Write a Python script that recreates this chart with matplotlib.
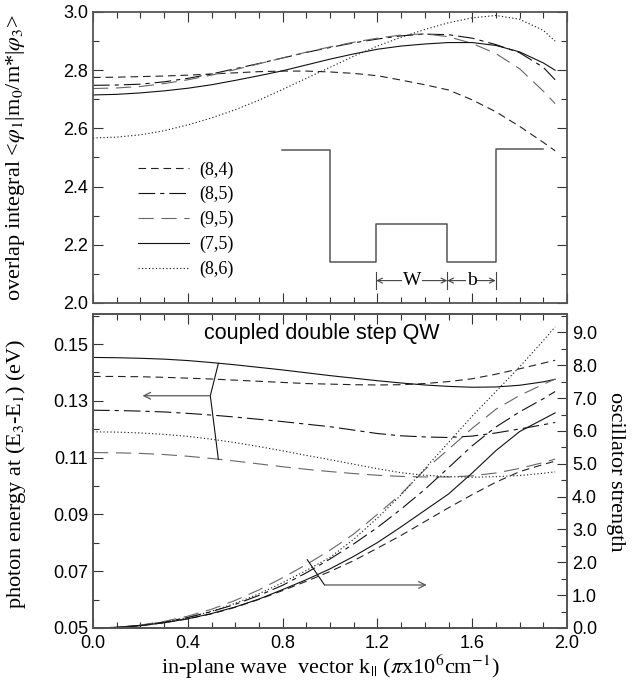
import matplotlib
matplotlib.use("Agg")
import matplotlib.pyplot as plt
from matplotlib.ticker import MultipleLocator, FixedLocator, FixedFormatter

plt.rcParams['mathtext.fontset'] = 'stix'
plt.rcParams['lines.scale_dashes'] = False

SERIF = 'Liberation Serif'
SANS = 'Liberation Sans'

# ---------------- data ----------------
k = [0.0, 0.1, 0.2, 0.3, 0.4, 0.5, 0.6, 0.7, 0.8, 0.9, 1.0,
     1.1, 1.2, 1.3, 1.4, 1.5, 1.6, 1.7, 1.8, 1.9, 1.95]

labels = ['(8,4)', '(8,5)', '(9,5)', '(7,5)', '(8,6)']

# overlap integral (top panel)
ov_84 = [2.775, 2.776, 2.778, 2.780, 2.783, 2.787, 2.791, 2.795, 2.797, 2.797, 2.794,
         2.789, 2.781, 2.766, 2.750, 2.732, 2.698, 2.657, 2.607, 2.552, 2.523]
ov_85 = [2.748, 2.749, 2.752, 2.760, 2.772, 2.787, 2.805, 2.823, 2.842, 2.861, 2.878,
         2.894, 2.907, 2.918, 2.924, 2.922, 2.910, 2.888, 2.860, 2.810, 2.767]
ov_95 = [2.737, 2.739, 2.744, 2.754, 2.767, 2.783, 2.802, 2.822, 2.842, 2.862, 2.880,
         2.896, 2.910, 2.921, 2.925, 2.915, 2.892, 2.857, 2.805, 2.728, 2.685]
ov_75 = [2.715, 2.717, 2.722, 2.729, 2.738, 2.750, 2.765, 2.781, 2.798, 2.818, 2.838,
         2.856, 2.872, 2.883, 2.890, 2.895, 2.895, 2.885, 2.863, 2.825, 2.800]
ov_86 = [2.567, 2.570, 2.578, 2.592, 2.612, 2.636, 2.664, 2.697, 2.734, 2.772, 2.810,
         2.848, 2.883, 2.913, 2.940, 2.963, 2.980, 2.988, 2.975, 2.937, 2.900]

# photon energy E3-E1 (eV), bottom panel left axis
en_84 = [.1386, .1386, .1385, .1383, .1380, .1377, .1373, .1369, .1365, .1361, .1359,
         .1357, .1356, .1357, .1361, .1368, .1378, .1394, .1413, .1433, .1443]
en_85 = [.1267, .1266, .1264, .1261, .1256, .1250, .1243, .1235, .1227, .1218, .1209,
         .1197, .1185, .1177, .1173, .1171, .1176, .1187, .1201, .1216, .1224]
en_95 = [.1118, .1117, .1115, .1111, .1105, .1097, .1088, .1078, .1068, .1059, .1051,
         .1044, .1038, .1034, .1032, .1032, .1036, .1046, .1062, .1083, .1095]
en_75 = [.1453, .1452, .1450, .1447, .1442, .1435, .1427, .1418, .1409, .1399, .1389,
         .1380, .1371, .1363, .1356, .1351, .1348, .1349, .1355, .1367, .1376]
en_86 = [.1191, .1190, .1187, .1182, .1175, .1165, .1153, .1139, .1124, .1108, .1093,
         .1077, .1061, .1047, .1038, .1033, .1031, .1033, .1037, .1045, .1050]

# oscillator strength, bottom panel right axis
os_84 = [0, .02, .07, .16, .28, .43, .63, .87, 1.14, 1.42, 1.72,
         2.05, 2.43, 2.82, 3.24, 3.66, 4.06, 4.44, 4.76, 4.98, 5.08]
os_85 = [0, .02, .08, .18, .32, .50, .72, .99, 1.30, 1.68, 2.10,
         2.56, 3.06, 3.62, 4.22, 4.88, 5.55, 6.12, 6.58, 6.98, 7.20]
os_95 = [0, .02, .09, .20, .36, .57, .84, 1.16, 1.53, 1.93, 2.37,
         2.86, 3.46, 4.08, 4.82, 5.44, 6.08, 6.66, 7.08, 7.42, 7.58]
os_75 = [0, .02, .07, .16, .28, .44, .64, .88, 1.17, 1.47, 1.80,
         2.18, 2.60, 3.08, 3.58, 4.08, 4.72, 5.40, 5.98, 6.36, 6.55]
os_86 = [0, .02, .08, .18, .32, .51, .75, 1.04, 1.38, 1.75, 2.15,
         2.70, 3.35, 4.05, 4.85, 5.65, 6.45, 7.20, 7.95, 8.75, 9.17]

xticks = [0.0, 0.4, 0.8, 1.2, 1.6, 2.0]
xticklabels = ['0.0', '0.4', '0.8', '1.2', '1.6', '2.0']
ov_ticks = [2.0, 2.2, 2.4, 2.6, 2.8, 3.0]
ov_ticklabels = ['2.0', '2.2', '2.4', '2.6', '2.8', '3.0']
en_ticks = [0.05, 0.07, 0.09, 0.11, 0.13, 0.15]
en_ticklabels = ['0.05', '0.07', '0.09', '0.11', '0.13', '0.15']
os_ticks = [0, 1, 2, 3, 4, 5, 6, 7, 8, 9]
os_ticklabels = ['0.0', '1.0', '2.0', '3.0', '4.0', '5.0', '6.0', '7.0', '8.0', '9.0']

# schematic of the double step well (inset drawing)
well_x = [0.796, 0.998, 0.998, 1.195, 1.195, 1.495, 1.495, 1.699, 1.699, 1.897]
well_y = [2.526, 2.526, 2.140, 2.140, 2.273, 2.273, 2.140, 2.140, 2.530, 2.530]

# ---------------- styles ----------------
styles = [
    dict(color='#222222', dashes=(5.5, 3.5)),                 # (8,4)
    dict(color='#111111', dashes=(12, 3.6, 3, 3.6)),          # (8,5)
    dict(color='#666666', dashes=(11, 5.5)),                  # (9,5)
    dict(color='#111111', linestyle='-'),                     # (7,5)
    dict(color='#222222', dashes=(0.9, 1.6)),                 # (8,6)
]
LW = 0.8

fig = plt.figure(figsize=(6.35, 6.85), dpi=100)
W, H = 635, 685
ax1 = fig.add_axes([93 / W, 1 - 303 / H, 474 / W, 291 / H])
ax2 = fig.add_axes([93 / W, 1 - 628 / H, 474 / W, 314 / H])
ax2r = ax2.twinx()

def style_axes(ax):
    for s in ax.spines.values():
        s.set_color('#555555')
        s.set_linewidth(1.3)
    ax.tick_params(which='both', direction='in', color='#333333', width=0.8)
    ax.tick_params(which='major', length=7)
    ax.tick_params(which='minor', length=4)
    for t in ax.get_xticklabels() + ax.get_yticklabels():
        t.set_fontfamily(SANS)
        t.set_fontsize(13)

# ---- top panel ----
ov = [ov_84, ov_85, ov_95, ov_75, ov_86]
handles = []
for y, st, lab in zip(ov, styles, labels):
    ln, = ax1.plot(k, y, lw=LW, label=lab, **st)
    handles.append(ln)
ax1.set_xlim(0, 2.0)
ax1.set_ylim(2.0, 3.0)
ax1.xaxis.set_major_locator(FixedLocator(xticks))
ax1.xaxis.set_minor_locator(MultipleLocator(0.1))
ax1.set_xticklabels([])
ax1.yaxis.set_major_locator(FixedLocator(ov_ticks))
ax1.yaxis.set_major_formatter(FixedFormatter(ov_ticklabels))
ax1.yaxis.set_minor_locator(MultipleLocator(0.1))
ax1.tick_params(which='both', top=True, right=True)
style_axes(ax1)

ax1.plot(well_x, well_y, color='#555555', lw=1.1)
for xa, xb, txt in [(1.195, 1.495, 'W'), (1.495, 1.699, 'b')]:
    ax1.annotate('', xy=(xa, 2.077), xytext=(xb, 2.077),
                 arrowprops=dict(arrowstyle='<->', color='#444444', lw=0.8,
                                 shrinkA=0, shrinkB=0, mutation_scale=9))
    ax1.text((xa + xb) / 2, 2.079, txt, ha='center', va='center',
             fontfamily=SERIF, fontsize=14,
             bbox=dict(facecolor='white', edgecolor='none', pad=0.6))
for xv in [1.195, 1.495, 1.699]:
    ax1.plot([xv, xv], [2.048, 2.105], color='#444444', lw=0.8)

leg = ax1.legend(handles=handles, loc='upper left', bbox_to_anchor=(0.095, 0.487),
                 frameon=False, prop=dict(family=SERIF, size=13),
                 handlelength=2.85, handletextpad=0.55, labelspacing=0.42,
                 borderpad=0, borderaxespad=0)

# ---- bottom panel ----
en = [en_84, en_85, en_95, en_75, en_86]
os_ = [os_84, os_85, os_95, os_75, os_86]
for y, st in zip(en, styles):
    ax2.plot(k, y, lw=LW, **st)
for y, st in zip(os_, styles):
    ax2r.plot(k, y, lw=LW, **st)

ax2.set_xlim(0, 2.0)
ax2.set_ylim(0.05, 0.1606)
ax2r.set_ylim(0, 9.56)
ax2.xaxis.set_major_locator(FixedLocator(xticks))
ax2.xaxis.set_major_formatter(FixedFormatter(xticklabels))
ax2.xaxis.set_minor_locator(MultipleLocator(0.1))
ax2.yaxis.set_major_locator(FixedLocator(en_ticks))
ax2.yaxis.set_major_formatter(FixedFormatter(en_ticklabels))
ax2.yaxis.set_minor_locator(MultipleLocator(0.01))
ax2r.yaxis.set_major_locator(FixedLocator(os_ticks))
ax2r.yaxis.set_major_formatter(FixedFormatter(os_ticklabels))
ax2r.yaxis.set_minor_locator(MultipleLocator(0.5))
ax2.tick_params(which='both', top=True)
style_axes(ax2)
style_axes(ax2r)
ax2.tick_params(axis='x', pad=5)

ax2.text(0.966, 0.1537, 'coupled double step QW', ha='center', va='center',
         fontfamily=SANS, fontsize=15.5)

# bracket + arrow for energy curves (left axis)
ax2.plot([0.529, 0.495, 0.529], [0.1432, 0.1318, 0.1094], color='#111111', lw=0.8)
ax2.annotate('', xy=(0.209, 0.1318), xytext=(0.495, 0.1318),
             arrowprops=dict(arrowstyle='->', color='#555555', lw=0.9,
                             shrinkA=0, shrinkB=0, mutation_scale=12))
# bracket + arrow for oscillator strengths (right axis)
ax2r.plot([0.904, 0.977], [2.08, 1.31], color='#111111', lw=0.8)
ax2r.annotate('', xy=(1.408, 1.31), xytext=(0.977, 1.31),
              arrowprops=dict(arrowstyle='->', color='#555555', lw=0.9,
                              shrinkA=0, shrinkB=0, mutation_scale=12))

# axis labels
fig.text(16 / W, 1 - 157 / H, r'overlap integral <$\varphi_1$|m$_0$/m*|$\varphi_3$>',
         rotation=90, ha='center', va='center', fontfamily=SERIF, fontsize=16)
fig.text(16 / W, 1 - 474 / H, r'photon energy at (E$_3$-E$_1$) (eV)',
         rotation=90, ha='center', va='center', fontfamily=SERIF, fontsize=16)
fig.text(616 / W, 1 - 472 / H, 'oscillator strength',
         rotation=270, ha='center', va='center', fontfamily=SERIF, fontsize=16)
fig.text(330 / W, 1 - 667 / H, r'in-plane wave  vector k$_{||}$ ($\pi$x10$^6$cm$^{-1}$)',
         ha='center', va='center', fontfamily=SERIF, fontsize=16)

fig.savefig('out.png', dpi=100)
